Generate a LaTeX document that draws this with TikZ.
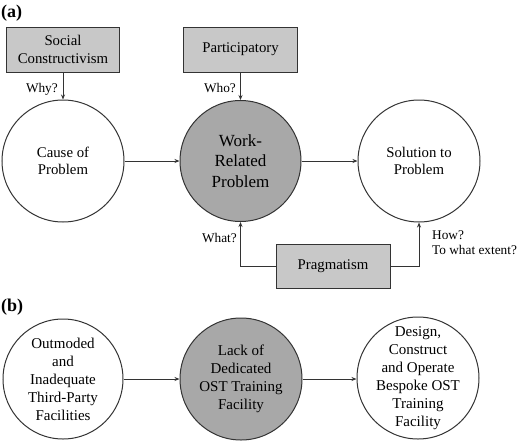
\documentclass[tikz,border=0pt]{standalone}
\usepackage{fontspec}
\setmainfont{Liberation Serif}
\usetikzlibrary{arrows.meta}
\definecolor{boxgray}{HTML}{C8C8C8}
\definecolor{circgray}{HTML}{A8A8A8}
\definecolor{linegray}{HTML}{333333}
\begin{document}
\begin{tikzpicture}[x=1pt,y=-1pt,
  every node/.style={inner sep=0pt},
  circ/.style={circle,draw=linegray,line width=1pt,fill=white,minimum size=122pt},
  darkcirc/.style={circ,fill=circgray},
  ctext/.style={align=center,font=\fontsize{14.8}{17.5}\selectfont},
  btext/.style={align=center,font=\fontsize{15}{18}\selectfont},
  lightbox/.style={rectangle,draw=linegray,line width=1pt,fill=boxgray,minimum width=114pt,minimum height=45pt,align=center,font=\fontsize{14.8}{17.5}\selectfont},
  arr/.style={draw=linegray,line width=0.9pt,-{Stealth[length=5pt,width=4pt]}},
  qlabel/.style={font=\fontsize{13.3}{15.5}\selectfont,align=left},
  panel/.style={font=\fontsize{18}{20}\selectfont\bfseries}
]
\useasboundingbox (0,0) rectangle (520,440);
% panel labels
\node[panel,anchor=west] (pa) at (1,13) {(a)};
\node[panel,anchor=west] (pb) at (1,307) {(b)};
% (a) circles
\node[circ] (c1) at (63,161) {};
\node[ctext] (t1) at (c1) {Cause of\\Problem};
\node[darkcirc,minimum size=121pt] (c2) at (240.5,161) {};
\node[ctext,font=\fontsize{17}{20.5}\selectfont] (t2) at (c2) {Work-\\Related\\Problem};
\node[circ] (c3) at (419,161) {};
\node[ctext] (t3) at (c3) {Solution to\\Problem};
% (a) boxes
\node[lightbox,minimum width=113pt] (sc) at (63,49.5) {Social\\Constructivism};
\node[lightbox] (pt) at (240.5,49.5) {Participatory};
\node[lightbox,minimum height=44pt] (pr) at (333,266) {Pragmatism};
% (a) connectors
\draw[arr] (c1) -- (c2);
\draw[arr] (c2) -- (c3);
\draw[arr] (sc.south) -- (c1.north);
\draw[arr] (pt.south) -- (c2.north);
\draw[arr] (pr.west) -| (c2.south);
\draw[arr] (pr.east) -| (c3.south);
% question labels
\node[qlabel,anchor=east] (why) at (58,89) {Why?};
\node[qlabel,anchor=east] (who) at (236,88) {Who?};
\node[qlabel,anchor=east] (what) at (237,238) {What?};
\node[qlabel,anchor=north west] (how) at (432,230) {How?\\To what extent?};
% (b) circles
\node[circ,minimum size=120pt] (b1) at (63,379) {};
\node[btext] (bt1) at (b1) {Outmoded\\and\\Inadequate\\Third-Party\\Facilities};
\node[darkcirc] (b2) at (241,379) {};
\node[btext] (bt2) at (b2) {Lack of\\Dedicated\\OST Training\\Facility};
\node[circ] (b3) at (418,378) {};
\node[btext] (bt3) at (b3) {Design,\\Construct\\and Operate\\Bespoke OST\\Training\\Facility};
% (b) connectors
\draw[arr] (b1) -- (b2);
\draw[arr] (b2) -- (b2 -| b3.west);
\end{tikzpicture}
\end{document}
